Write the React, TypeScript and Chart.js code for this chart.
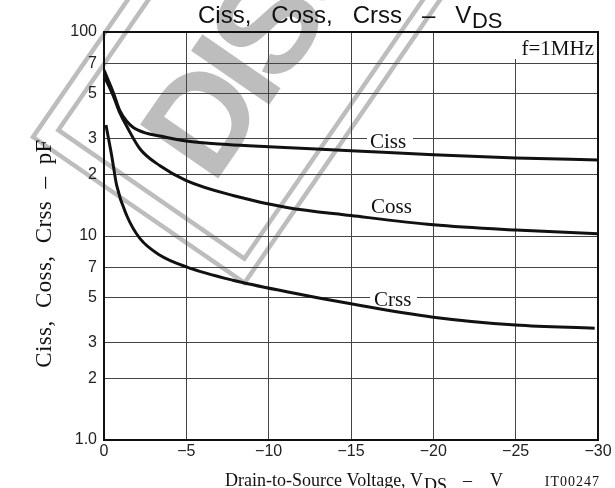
import React, { useEffect, useRef } from "react";
import { Chart, registerables } from "chart.js";

Chart.register(...registerables);

// ---- data ----
const cissVoltage = [0, -0.57, -0.97, -1.38, -1.76, -2.5, -3.4, -5, -7.5, -10, -15, -20, -25, -30];
const cissPf = [65, 50.4, 41, 36.5, 34.1, 32, 30.9, 29.2, 28.1, 27.4, 26.2, 25.0, 24.1, 23.6];

const cossVoltage = [0, -0.57, -0.97, -1.38, -2.19, -3.4, -5, -7.83, -11.1, -15, -20, -25, -30];
const cossPf = [61, 48.5, 40, 34.5, 26.7, 22.1, 18.7, 15.8, 13.8, 12.6, 11.35, 10.7, 10.26];

const crssVoltage = [-0.12, -0.47, -0.77, -1.38, -2.19, -3.4, -5, -7.83, -11.1, -15, -20, -25, -29.8];
const crssPf = [35, 24.7, 17.7, 12.6, 9.7, 8.05, 7.06, 6.07, 5.33, 4.65, 4.0, 3.66, 3.53];

const seriesNames = ["Ciss", "Coss", "Crss"];
const xTickValues = [0, -5, -10, -15, -20, -25, -30];
const yTickValues = [1, 2, 3, 5, 7, 10, 20, 30, 50, 70, 100];
const yTickLabels = ["1.0", "2", "3", "5", "7", "10", "2", "3", "5", "7", "100"];

const SANS = '"Liberation Sans", Arial, sans-serif';
const SERIF = '"Liberation Serif", "Times New Roman", serif';

const toPoints = (xs: number[], ys: number[]) => xs.map((x, i) => ({ x, y: ys[i] }));

const decoPlugin = {
  id: "deco",
  beforeDraw(chart: any) {
    const ctx: CanvasRenderingContext2D = chart.ctx;
    const c = 0.823;
    const s = 0.568;
    ctx.save();
    ctx.strokeStyle = "#bdbdbd";
    ctx.fillStyle = "#bdbdbd";
    ctx.lineWidth = 4.5;
    ctx.setTransform(c, s, s, -c, 0, 0);
    ctx.strokeRect(105, -94, 257, 1000);
    ctx.strokeRect(122, -74, 226, 1000);
    ctx.setTransform(s, -c, c, s, 0, 0);
    ctx.font = `bold 138px ${SANS}`;
    ctx.textBaseline = "alphabetic";
    (ctx as any).letterSpacing = "-10px";
    ctx.fillText("DISCONTINUED", -32, 281);
    (ctx as any).letterSpacing = "0px";
    ctx.restore();
  },
  beforeDatasetsDraw(chart: any) {
    const ctx: CanvasRenderingContext2D = chart.ctx;
    const { left, right, top, bottom } = chart.chartArea;
    ctx.save();
    // white boxes behind in-plot labels
    ctx.fillStyle = "#ffffff";
    ctx.fillRect(367, 131, 46, 18);
    ctx.fillRect(370, 290, 47, 18);
    ctx.fillRect(512, top + 1, right - 513, 26);
    // frame
    ctx.strokeStyle = "#111";
    ctx.lineWidth = 2;
    ctx.strokeRect(left, top, right - left, bottom - top);
    ctx.restore();
  },
  afterDraw(chart: any) {
    const ctx: CanvasRenderingContext2D = chart.ctx;
    ctx.save();
    ctx.fillStyle = "#111";
    ctx.textBaseline = "alphabetic";
    ctx.textAlign = "left";

    // title
    ctx.font = `24px ${SANS}`;
    const main = "Ciss,   Coss,   Crss   –   V";
    ctx.fillText(main, 198, 22.5);
    const w = ctx.measureText(main).width;
    ctx.font = `22px ${SANS}`;
    ctx.fillText("DS", 198 + w + 0.5, 28);

    // series labels
    ctx.font = `21px ${SERIF}`;
    ctx.fillText(seriesNames[0], 370, 148);
    ctx.fillText(seriesNames[1], 371, 212.5);
    ctx.fillText(seriesNames[2], 374, 306);

    ctx.textAlign = "right";
    ctx.fillText("f=1MHz", 594, 55);

    // x axis title
    ctx.textAlign = "left";
    ctx.font = `18px ${SERIF}`;
    const xt = "Drain-to-Source Voltage, V";
    ctx.fillText(xt, 225, 486);
    const xw = ctx.measureText(xt).width;
    ctx.fillText("DS", 225 + xw + 1, 491);
    ctx.fillText("–", 463, 486);
    ctx.fillText("V", 490, 486);

    ctx.font = `14px ${SERIF}`;
    ctx.textAlign = "right";
    (ctx as any).letterSpacing = "1px";
    ctx.fillText("IT00247", 600, 486);

    // y axis title
    ctx.translate(51, 253.5);
    ctx.rotate(-Math.PI / 2);
    ctx.textAlign = "center";
    ctx.font = `23px ${SERIF}`;
    (ctx as any).letterSpacing = "0.4px";
    ctx.fillText("Ciss,  Coss,  Crss  –  pF", 0, 0);
    (ctx as any).letterSpacing = "0px";
    ctx.restore();
  },
};

export default function App() {
  const ref = useRef<HTMLCanvasElement | null>(null);

  useEffect(() => {
    document.body.style.margin = "0";
    const canvas = ref.current;
    if (!canvas) return;
    const lineStyle = {
      borderColor: "#111",
      borderWidth: 3,
      pointRadius: 0,
      fill: false,
      cubicInterpolationMode: "monotone" as const,
    };
    const chart = new Chart(canvas, {
      type: "line",
      data: {
        datasets: [
          { label: seriesNames[0], data: toPoints(cissVoltage, cissPf), ...lineStyle },
          { label: seriesNames[1], data: toPoints(cossVoltage, cossPf), ...lineStyle },
          { label: seriesNames[2], data: toPoints(crssVoltage, crssPf), ...lineStyle },
        ],
      },
      options: {
        responsive: false,
        animation: false,
        events: [],
        layout: { padding: { left: 0, right: 17, top: 32, bottom: 0 } },
        plugins: {
          legend: { display: false },
          tooltip: { enabled: false },
          title: { display: false },
        },
        scales: {
          x: {
            type: "linear",
            min: -30,
            max: 0,
            reverse: true,
            afterBuildTicks: (scale: any) => {
              scale.ticks = xTickValues.map((v) => ({ value: v }));
            },
            afterFit: (scale: any) => {
              scale.height = 48;
            },
            ticks: {
              color: "#222",
              font: { family: SANS, size: 16 },
              padding: 2,
              maxRotation: 0,
              callback: (v: any) => (Number(v) === 0 ? "0" : "−" + Math.abs(Number(v))),
            },
            grid: { color: "#444", lineWidth: 1, drawTicks: false },
            border: { display: false },
          },
          y: {
            type: "logarithmic",
            min: 1,
            max: 100,
            afterBuildTicks: (scale: any) => {
              scale.ticks = yTickValues.map((v) => ({ value: v }));
            },
            afterFit: (scale: any) => {
              scale.width = 104;
            },
            ticks: {
              color: "#222",
              font: { family: SANS, size: 16 },
              padding: 7,
              callback: (v: any) => {
                const i = yTickValues.indexOf(Number(v));
                return i >= 0 ? yTickLabels[i] : "";
              },
            },
            grid: { color: "#444", lineWidth: 1, drawTicks: false },
            border: { display: false },
          },
        },
      },
      plugins: [decoPlugin],
    });
    return () => chart.destroy();
  }, []);

  return <canvas ref={ref} width={615} height={488} style={{ display: "block" }} />;
}
